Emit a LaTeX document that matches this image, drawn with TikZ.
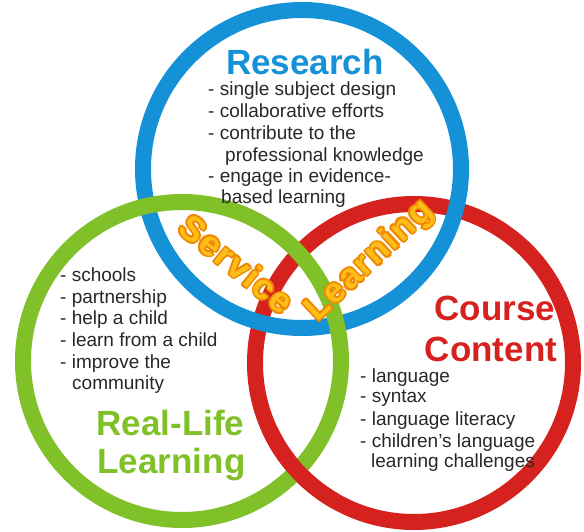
\documentclass[tikz,border=0pt]{standalone}
\usepackage{fontspec}
\setmainfont{Liberation Sans}
\usetikzlibrary{calc}
\definecolor{cblue}{RGB}{20,145,215}
\definecolor{cgreen}{RGB}{128,192,40}
\definecolor{cred}{RGB}{214,34,30}
\definecolor{ctext}{RGB}{40,40,40}
\definecolor{corange}{RGB}{240,135,0}
\definecolor{cyellow}{RGB}{253,190,25}
\begin{document}
\begin{tikzpicture}[x=1pt,y=1pt,
 ring/.style={line width=16pt},
 item/.style={anchor=base west, inner sep=0pt, text=ctext, font=\fontsize{19}{22}\selectfont},
 title/.style={inner sep=0pt, anchor=base, font=\fontsize{35}{40}\selectfont\bfseries},
 wordart/.style={inner sep=0pt, font=\fontsize{35}{40}\selectfont\bfseries\addfontfeature{LetterSpace=5}}]
\useasboundingbox (0,0) rectangle (584,531);
\fill[white] (0,0) rectangle (584,531);
\coordinate (cb) at (302,362);
\coordinate (cg) at (182,170);
\coordinate (cr) at (414,168);
\draw[ring,cred] (cr) circle[radius=159pt];
\draw[ring,cblue] (cb) circle[radius=159pt];
\draw[ring,cgreen] (cg) circle[radius=159pt];
\draw[ring,cred] ([shift={(205:159pt)}]cr) arc[start angle=205,end angle=240,radius=159pt];
% titles
\node[title,text=cblue] (tres) at (305,456) {Research};
\node[title,text=cred] (tcou) at (495,211) {Course};
\node[title,text=cred] (tcon) at (491,170) {Content};
\node[title,text=cgreen] (treal) at (170.5,96) {Real-Life};
\node[title,text=cgreen] (tlearn) at (171.5,58) {Learning};
% research items
\node[item] (r1) at (208,435) {- single subject design};
\node[item] (r2) at (208,413) {- collaborative efforts};
\node[item] (r3) at (208,391) {- contribute to the};
\node[item] (r4) at (225,369) {professional knowledge};
\node[item] (r5) at (208,348) {- engage in evidence-};
\node[item] (r6) at (221,327) {based learning};
% real-life items
\node[item] (l1) at (60,249) {- schools};
\node[item] (l2) at (60,228) {- partnership};
\node[item] (l3) at (60,207) {- help a child};
\node[item] (l4) at (60,185) {- learn from a child};
\node[item] (l5) at (60,163) {- improve the};
\node[item] (l6) at (72,142) {community};
% course items
\node[item] (c1) at (360,149) {- language};
\node[item] (c2) at (360,129) {- syntax};
\node[item] (c3) at (360,106) {- language literacy};
\node[item] (c4) at (360,84) {- children’s language};
\node[item] (c5) at (371,64) {learning challenges};
% service learning word art (orange outline, yellow fill)
\foreach \a in {0,45,...,315}{
  \node[wordart,text=corange,rotate=-39] (sv\a) at ($(237,267)+(\a:1.9pt)$) {Service};
  \node[wordart,text=corange,rotate=43] (lv\a) at ($(370,270)+(\a:1.9pt)$) {Learning};
}
\node[wordart,text=cyellow,rotate=-39] (serv) at (237,267) {Service};
\node[wordart,text=cyellow,rotate=43] (lrn) at (370,270) {Learning};
\end{tikzpicture}
\end{document}
